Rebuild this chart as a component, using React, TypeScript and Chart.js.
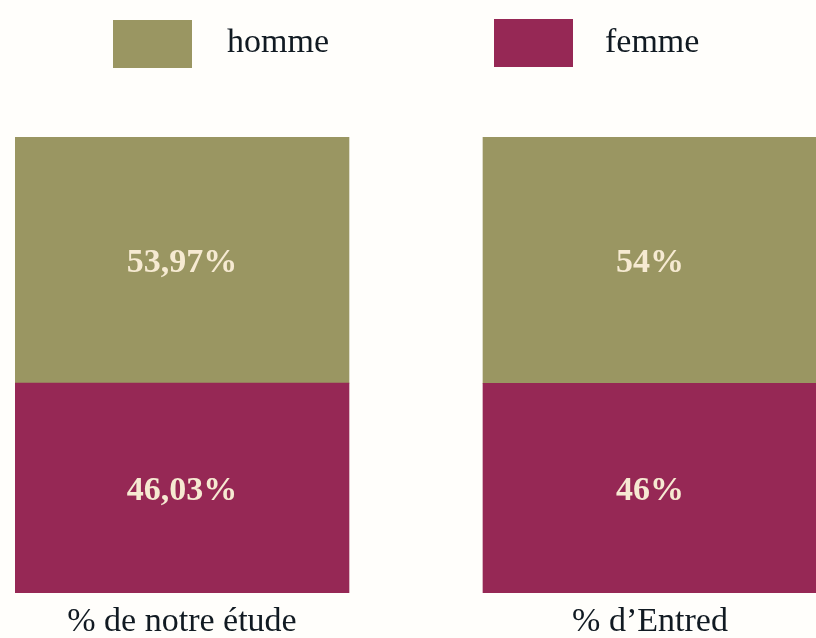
import React, { useEffect, useRef } from "react";
import { Chart, registerables } from "chart.js";

Chart.register(...registerables);

const categories = ["% de notre étude", "% d’Entred"];
const xPositions = [0, 1];
const hommeValues = [53.97, 54];
const femmeValues = [46.03, 46];
const seriesNames = ["homme", "femme"];
const seriesColors = ["#9a9662", "#962855"];

const fmt = (v: number) => String(v).replace(".", ",") + "%";

const legendPlugin = {
  id: "customLegend",
  afterDraw(chart: any) {
    const ctx = chart.ctx;
    const items = [
      { box: 113, text: 227, top: 20 },
      { box: 494, text: 605, top: 19 },
    ];
    ctx.save();
    seriesNames.forEach((name, i) => {
      const ds = chart.data.datasets.find((d: any) => d.label === name);
      const it = items[i];
      ctx.fillStyle = ds.backgroundColor;
      ctx.fillRect(it.box, it.top, 79, 48);
      ctx.fillStyle = "#111a22";
      ctx.font = "34px 'Liberation Serif', 'Times New Roman', serif";
      ctx.textBaseline = "alphabetic";
      ctx.textAlign = "left";
      ctx.fillText(name, it.text, 52);
    });
    ctx.restore();
  },
};

const valueLabelPlugin = {
  id: "valueLabels",
  afterDatasetsDraw(chart: any) {
    const ctx = chart.ctx;
    ctx.save();
    ctx.font = "bold 34px 'Liberation Serif', 'Times New Roman', serif";
    ctx.fillStyle = "#f6ead2";
    ctx.textAlign = "center";
    ctx.textBaseline = "middle";
    chart.data.datasets.forEach((ds: any, di: number) => {
      const meta = chart.getDatasetMeta(di);
      meta.data.forEach((el: any, i: number) => {
        const v = ds.data[i].y;
        const cy = (el.y + el.base) / 2 + 3;
        ctx.fillText(fmt(v), el.x, cy);
      });
    });
    ctx.restore();
  },
};

export default function App() {
  const ref = useRef<HTMLCanvasElement | null>(null);
  useEffect(() => {
    if (!ref.current) return;
    const chart = new Chart(ref.current, {
      type: "bar",
      data: {
        datasets: [
          {
            label: seriesNames[1],
            data: xPositions.map((x, i) => ({ x, y: femmeValues[i] })),
            backgroundColor: seriesColors[1],
            barThickness: 334,
          },
          {
            label: seriesNames[0],
            data: xPositions.map((x, i) => ({ x, y: hommeValues[i] })),
            backgroundColor: seriesColors[0],
            barThickness: 334,
          },
        ] as any,
      },
      options: {
        animation: false,
        responsive: false,
        maintainAspectRatio: false,
        layout: { padding: { top: 137, left: 15, right: 0, bottom: -13 } },
        plugins: {
          legend: { display: false },
          tooltip: { enabled: false },
        },
        scales: {
          x: {
            type: "linear",
            stacked: true,
            offset: false,
            min: -0.3568,
            max: 1.3547,
            grid: { display: false, drawTicks: false },
            border: { display: false },
            afterBuildTicks: (scale: any) => {
              scale.ticks = xPositions.map((v) => ({ value: v }));
            },
            ticks: {
              autoSkip: false,
              maxRotation: 0,
              padding: 13,
              color: "#111a22",
              font: { family: "'Liberation Serif', 'Times New Roman', serif", size: 34, lineHeight: 0.94 },
              callback: (v: any) => categories[xPositions.indexOf(Number(v))] ?? "",
            },
          },
          y: {
            stacked: true,
            min: 0,
            max: 100,
            display: false,
          },
        },
      },
      plugins: [legendPlugin, valueLabelPlugin],
    });
    return () => chart.destroy();
  }, []);
  return (
    <div style={{ position: "fixed", left: 0, top: 0, width: 816, height: 638, background: "#fffefb" }}>
      <canvas ref={ref} width={816} height={638} style={{ width: 816, height: 638 }} />
    </div>
  );
}
